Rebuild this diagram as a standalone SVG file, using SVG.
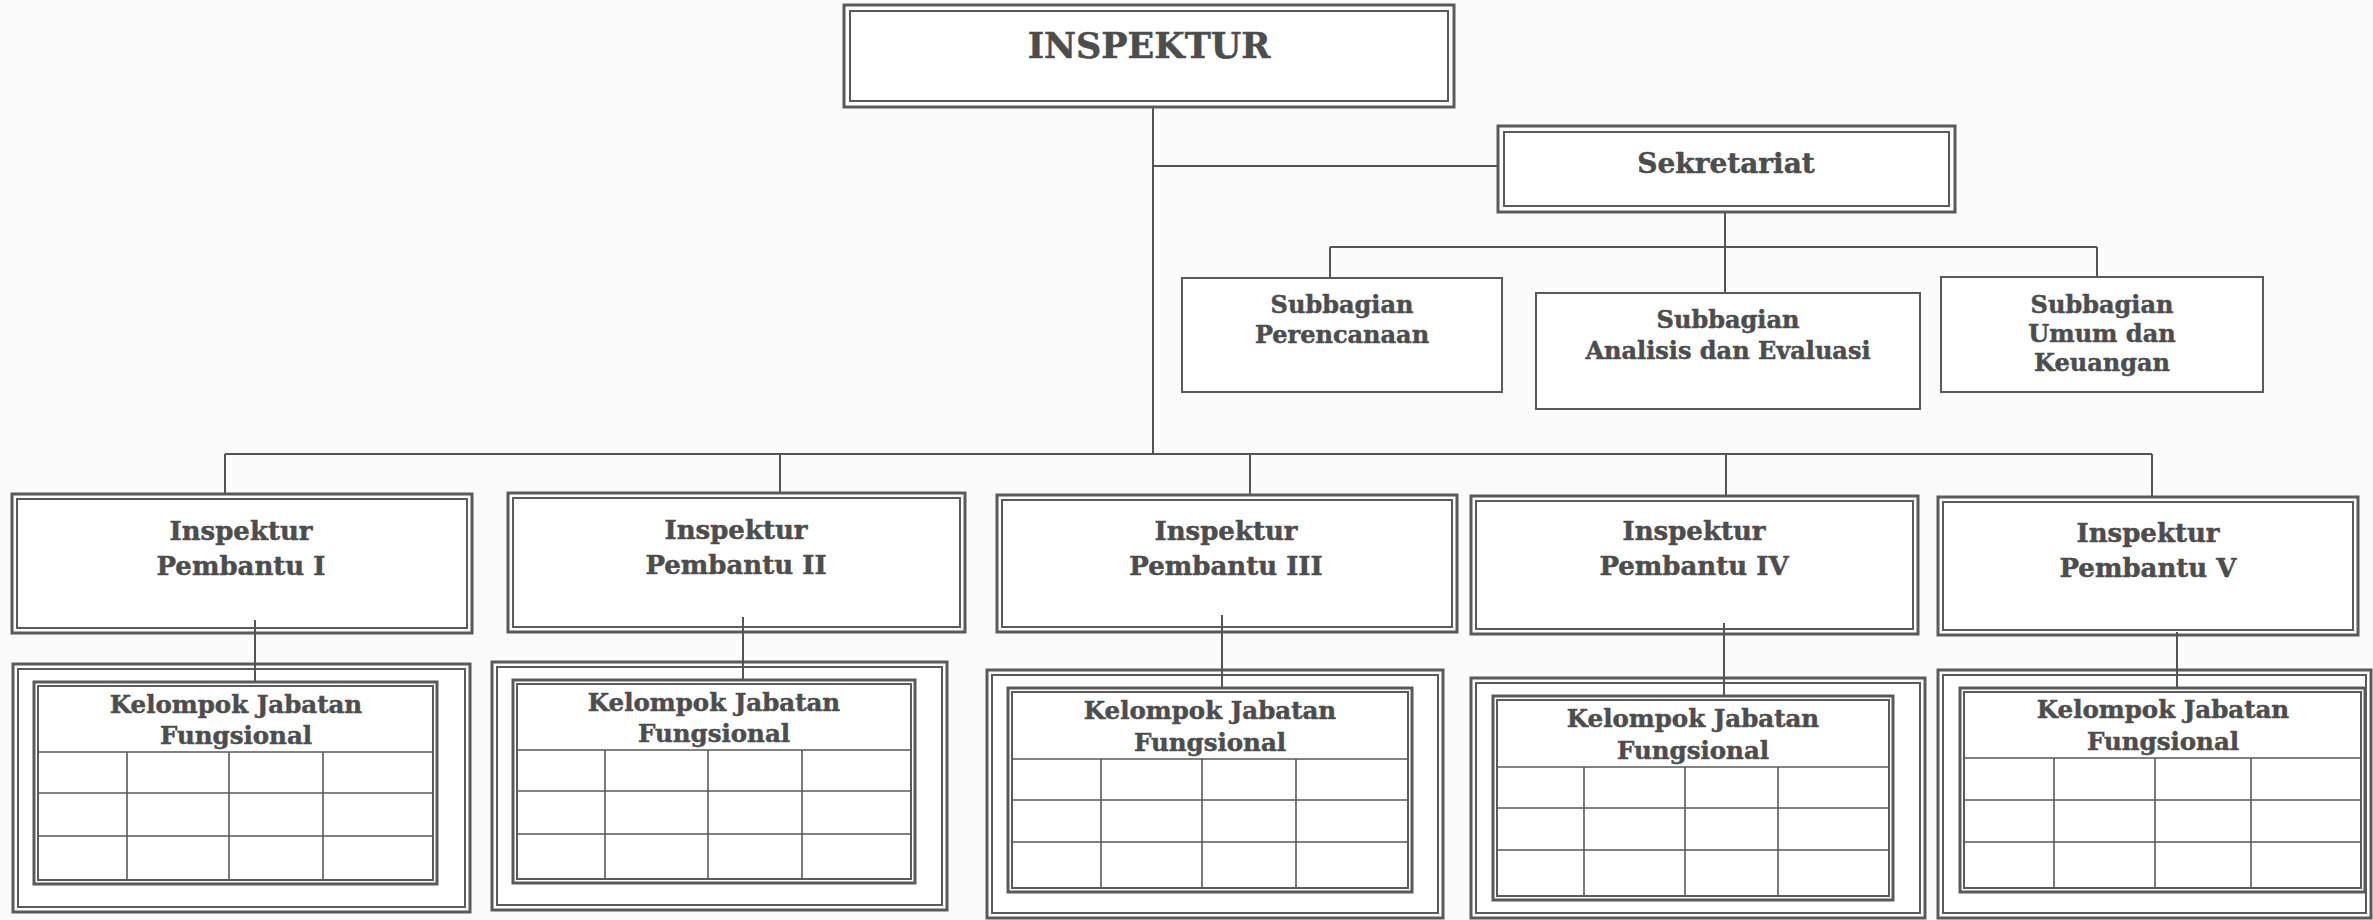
<svg xmlns="http://www.w3.org/2000/svg" width="2373" height="920" viewBox="0 0 2373 920">
<style>
.bg{fill:#fbfbfb}
.o{fill:#fff;stroke:#5a5a5a;stroke-width:3}
.i{fill:none;stroke:#5a5a5a;stroke-width:2}
.s{fill:#fff;stroke:#5a5a5a;stroke-width:2}
.g{fill:none;stroke:#5a5a5a;stroke-width:1.6}
.c{fill:none;stroke:#555;stroke-width:2}
text{font-family:"DejaVu Serif","Liberation Serif",serif;font-weight:bold;fill:#4d4d4d;stroke:#4d4d4d;stroke-width:0.5;text-anchor:middle}
.t35{font-size:35px}.t28{font-size:28px}.t26{font-size:26px}.t24{font-size:24px}.t25{font-size:24.5px}
</style>
<rect class="bg" x="0" y="0" width="2373" height="920"/>
<g id="inspektur">
<rect class="o" x="844" y="5" width="610" height="102"/>
<rect class="i" x="850" y="11" width="598" height="90"/>
<text class="t35" x="1149" y="58">INSPEKTUR</text>
</g>
<g id="sekretariat">
<rect class="o" x="1498" y="126" width="457" height="86"/>
<rect class="i" x="1504" y="132" width="445" height="74"/>
<text class="t28" x="1726" y="173">Sekretariat</text>
</g>
<g id="subbagian-perencanaan">
<rect class="s" x="1182" y="278" width="320" height="114"/>
<text class="t24" x="1342" y="313">Subbagian</text>
<text class="t24" x="1342" y="343">Perencanaan</text>
</g>
<g id="subbagian-analisis">
<rect class="s" x="1536" y="293" width="384" height="116"/>
<text class="t24" x="1728" y="328">Subbagian</text>
<text class="t24" x="1728" y="359">Analisis dan Evaluasi</text>
</g>
<g id="subbagian-umum">
<rect class="s" x="1941" y="277" width="322" height="115"/>
<text class="t24" x="2102" y="313">Subbagian</text>
<text class="t24" x="2102" y="342">Umum dan</text>
<text class="t24" x="2102" y="371">Keuangan</text>
</g>
<g id="ip1">
<rect class="o" x="12" y="494" width="460" height="139"/>
<rect class="i" x="17" y="499" width="450" height="129"/>
<text class="t26" x="241" y="540">Inspektur</text>
<text class="t26" x="241" y="575">Pembantu I</text>
</g>
<g id="ip2">
<rect class="o" x="508" y="493" width="457" height="139"/>
<rect class="i" x="513" y="498" width="447" height="129"/>
<text class="t26" x="736" y="539">Inspektur</text>
<text class="t26" x="736" y="574">Pembantu II</text>
</g>
<g id="ip3">
<rect class="o" x="997" y="495" width="460" height="137"/>
<rect class="i" x="1002" y="500" width="450" height="127"/>
<text class="t26" x="1226" y="540">Inspektur</text>
<text class="t26" x="1226" y="575">Pembantu III</text>
</g>
<g id="ip4">
<rect class="o" x="1471" y="496" width="447" height="138"/>
<rect class="i" x="1476" y="501" width="437" height="128"/>
<text class="t26" x="1694" y="540">Inspektur</text>
<text class="t26" x="1694" y="575">Pembantu IV</text>
</g>
<g id="ip5">
<rect class="o" x="1938" y="497" width="420" height="138"/>
<rect class="i" x="1943" y="502" width="410" height="128"/>
<text class="t26" x="2148" y="542">Inspektur</text>
<text class="t26" x="2148" y="577">Pembantu V</text>
</g>
<g id="kjf1">
<rect class="o" x="13" y="664" width="457" height="248"/>
<rect class="i" x="18" y="669" width="447" height="238"/>
<rect class="o" x="34" y="682" width="403" height="202"/>
<rect class="i" x="38" y="686" width="395" height="194"/>
<path class="g" d="M38 752H433M38 793H433M38 836H433M127 752V880M229 752V880M323 752V880"/>
<text class="t25" x="236" y="713">Kelompok Jabatan</text>
<text class="t25" x="236" y="744">Fungsional</text>
</g>
<g id="kjf2">
<rect class="o" x="492" y="662" width="455" height="248"/>
<rect class="i" x="497" y="667" width="445" height="238"/>
<rect class="o" x="513" y="680" width="402" height="203"/>
<rect class="i" x="517" y="684" width="394" height="195"/>
<path class="g" d="M517 750H911M517 791H911M517 834H911M605 750V879M708 750V879M802 750V879"/>
<text class="t25" x="714" y="711">Kelompok Jabatan</text>
<text class="t25" x="714" y="742">Fungsional</text>
</g>
<g id="kjf3">
<rect class="o" x="987" y="670" width="456" height="248"/>
<rect class="i" x="992" y="675" width="446" height="238"/>
<rect class="o" x="1008" y="688" width="404" height="204"/>
<rect class="i" x="1012" y="692" width="396" height="196"/>
<path class="g" d="M1012 759H1408M1012 800H1408M1012 842H1408M1101 759V888M1202 759V888M1296 759V888"/>
<text class="t25" x="1210" y="719">Kelompok Jabatan</text>
<text class="t25" x="1210" y="751">Fungsional</text>
</g>
<g id="kjf4">
<rect class="o" x="1471" y="678" width="454" height="240"/>
<rect class="i" x="1476" y="683" width="444" height="230"/>
<rect class="o" x="1493" y="696" width="400" height="204"/>
<rect class="i" x="1497" y="700" width="392" height="196"/>
<path class="g" d="M1497 767H1889M1497 808H1889M1497 850H1889M1584 767V896M1685 767V896M1778 767V896"/>
<text class="t25" x="1693" y="727">Kelompok Jabatan</text>
<text class="t25" x="1693" y="759">Fungsional</text>
</g>
<g id="kjf5">
<rect class="o" x="1938" y="670" width="433" height="248"/>
<rect class="i" x="1943" y="675" width="423" height="238"/>
<rect class="o" x="1960" y="688" width="405" height="204"/>
<rect class="i" x="1964" y="692" width="397" height="196"/>
<path class="g" d="M1964 758H2361M1964 800H2361M1964 842H2361M2054 758V888M2155 758V888M2251 758V888"/>
<text class="t25" x="2163" y="718">Kelompok Jabatan</text>
<text class="t25" x="2163" y="750">Fungsional</text>
</g>
<g id="connectors">
<path class="c" d="M1153 107V454M1153 166H1498M1725 212V293M1330 247H2097M1330 247V278M2097 247V277M225 454H2152M225 454V494M780 454V493M1250 454V495M1726 454V496M2152 454V497M255 620V682M743 617V680M1222 615V688M1724 623V696M2177 632V688"/>
</g>
</svg>
